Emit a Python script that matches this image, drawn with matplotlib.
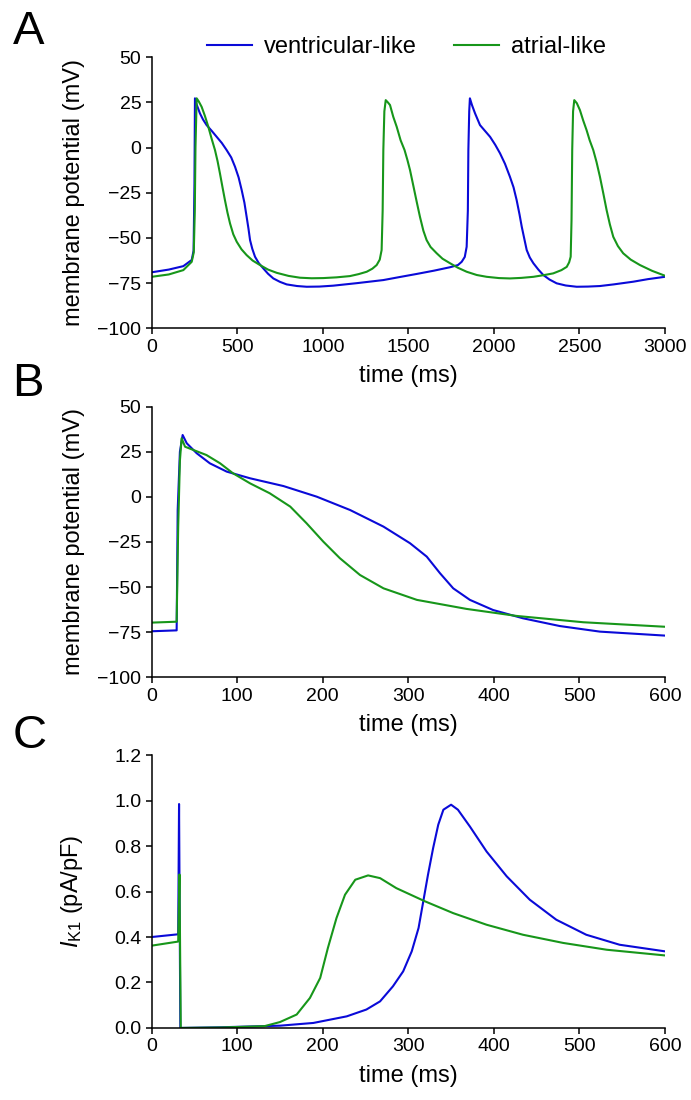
import numpy as np
import matplotlib
matplotlib.use('Agg')
import matplotlib.pyplot as plt

plt.rcParams['font.family'] = ['Liberation Sans', 'DejaVu Sans']
plt.rcParams['mathtext.fontset'] = 'custom'
plt.rcParams['mathtext.rm'] = 'Liberation Sans'
plt.rcParams['mathtext.it'] = 'Liberation Sans:italic'
plt.rcParams['lines.solid_joinstyle'] = 'round'

BLUE = '#0a0ad8'
GREEN = '#17961a'

# ---- panel A: spontaneous activity, 0-3000 ms
t_ven_a = [0, 100, 185, 234, 245, 250, 253, 262, 282, 300, 321, 350, 380, 410, 438, 465,
           487, 508, 526, 542, 555, 566, 575, 588, 604, 625, 652, 680, 711, 750, 789, 850,
           906, 980, 1061, 1200, 1354, 1451, 1550, 1650, 1744, 1790, 1812, 1830, 1841,
           1848, 1851, 1856, 1860, 1872, 1890, 1919, 1948, 1978, 2008, 2036, 2065, 2094,
           2115, 2133, 2150, 2163, 2178, 2192, 2210, 2231, 2260, 2289, 2325, 2367, 2420,
           2484, 2550, 2620, 2700, 2815, 2900, 3000]
v_ven_a = [-69.0, -67.5, -65.6, -62.2, -57.0, -20.0, 27.2, 24.0, 18.9, 15.5, 12.4, 9.3, 5.9,
           2.5, -1.4, -5.5, -10.6, -16.5, -23.5, -30.5, -38.3, -45.0, -51.2, -56.0, -60.4,
           -63.8, -66.8, -69.8, -72.4, -74.3, -75.7, -76.6, -77.0, -76.9, -76.4, -75.0,
           -73.3, -71.6, -69.9, -68.1, -66.2, -65.0, -63.2, -60.5, -54.9, -35.0, -1.4,
           20.0, 27.2, 23.5, 18.9, 12.4, 9.2, 5.9, 1.5, -3.2, -9.0, -16.2, -22.0, -29.0,
           -37.0, -43.8, -50.5, -56.7, -60.8, -64.0, -67.5, -70.5, -73.0, -75.1, -76.3,
           -77.0, -76.9, -76.6, -75.7, -74.2, -72.8, -71.5]

t_atr_a = [0, 100, 185, 234, 246, 252, 256, 263, 275, 292, 311, 331, 350, 370, 385, 399,
           414, 428, 443, 458, 477, 497, 525, 555, 590, 633, 680, 731, 800, 867, 935, 1003,
           1080, 1159, 1210, 1257, 1290, 1315, 1333, 1344, 1350, 1354, 1360,
           1368, 1380, 1393, 1412, 1432, 1455, 1478, 1495, 1510, 1529, 1549, 1568, 1588,
           1607, 1630, 1666, 1700, 1744, 1790, 1841, 1900, 1958, 2030, 2094, 2160, 2231,
           2290, 2347, 2395, 2426, 2440, 2449, 2454, 2458, 2463,
           2470, 2485, 2503, 2522, 2542, 2560, 2581, 2600, 2620, 2640, 2659, 2678, 2698,
           2725, 2756, 2800, 2854, 2925, 3000]
v_atr_a = [-71.5, -70.2, -67.8, -63.2, -58.0, -35.0, 0.0, 27.2, 25.5, 22.5, 17.5, 11.5, 5.0,
           -1.4, -7.5, -14.3, -22.0, -29.0, -36.0, -42.0, -48.0, -52.1, -56.3, -59.5,
           -62.5, -65.0, -67.5, -69.3, -71.0, -72.0, -72.3, -72.2, -71.8, -71.1, -70.0,
           -68.7, -67.0, -65.0, -62.0, -56.7, -35.0, -1.4, 20.0,
           26.2, 25.0, 23.5, 17.0, 11.5, 4.0, -1.4, -7.0, -12.5, -21.0, -30.0, -38.3,
           -46.0, -51.2, -55.0, -58.5, -61.5, -64.0, -66.5, -68.7, -70.5, -71.5, -72.2,
           -72.4, -72.1, -71.5, -70.6, -69.6, -67.8, -66.0, -63.5, -60.4, -40.0, -1.4, 20.0,
           26.2, 24.5, 20.7, 15.0, 9.6, 4.0, -1.4, -8.0, -16.2, -25.5, -34.6, -42.5, -49.4,
           -54.5, -58.5, -62.0, -65.0, -68.2, -70.9]

# ---- panel B: paced action potential, 0-600 ms
t_ven_b = [0, 29.2, 30.4, 33, 36.2, 41, 52.6, 68, 87.7, 115, 154, 193, 232, 271, 302, 321.5,
           337, 352.5, 372, 399, 434, 477, 524, 600]
v_ven_b = [-74.5, -74.0, -7.3, 25.0, 34.3, 29.7, 24.2, 18.6, 14.0, 10.3, 6.0, 0.1, -7.3,
           -16.5, -25.7, -33.1, -42.3, -50.7, -57.1, -62.7, -67.3, -71.6, -74.7, -76.9]

t_atr_b = [0, 29.2, 31, 33, 35, 39, 48.7, 64, 80, 95, 115, 138, 162, 181, 200.6, 220, 243.5,
           271, 310, 368, 426.6, 504.5, 600]
v_atr_b = [-69.7, -69.2, -16.5, 20.0, 32.5, 27.8, 26.0, 23.2, 18.6, 13.1, 7.5, 2.0, -5.4,
           -14.6, -24.8, -34.0, -43.3, -50.7, -57.1, -62.1, -66.0, -69.5, -72.0]

# ---- panel C: IK1 current
t_ven_c = [0, 31, 32, 33.5, 81, 150, 189, 228, 251, 267, 282, 294, 304, 312, 317.5, 323, 329,
           335, 341, 350, 358, 372, 391.5, 415, 442, 473, 508, 547, 600]
i_ven_c = [0.400, 0.412, 0.985, 0.0, 0.003, 0.010, 0.022, 0.051, 0.081, 0.117, 0.183, 0.249,
           0.337, 0.44, 0.557, 0.674, 0.791, 0.894, 0.96, 0.982, 0.96, 0.886, 0.776, 0.667,
           0.564, 0.476, 0.41, 0.366, 0.337]

t_atr_c = [0, 31, 32.5, 34, 81, 132, 150, 169.5, 185, 197, 206, 216, 226, 238, 253, 267, 286,
           319.5, 352.5, 391.5, 434, 481, 532, 600]
i_atr_c = [0.362, 0.380, 0.675, 0.0, 0.002, 0.008, 0.026, 0.059, 0.132, 0.22, 0.352, 0.483,
           0.586, 0.652, 0.671, 0.659, 0.615, 0.557, 0.505, 0.454, 0.41, 0.374, 0.344, 0.319]

fig = plt.figure(figsize=(6.91, 11), dpi=100)
L, W = 0.2195, 0.7428
axA = fig.add_axes([L, 0.7015, W, 0.2466])
axB = fig.add_axes([L, 0.3843, W, 0.246])
axC = fig.add_axes([L, 0.0655, W, 0.248])

lw = 1.5
hv, = axA.plot(t_ven_a, v_ven_a, color=BLUE, lw=lw)
ha, = axA.plot(t_atr_a, v_atr_a, color=GREEN, lw=lw)
axB.plot(t_ven_b, v_ven_b, color=BLUE, lw=lw)
axB.plot(t_atr_b, v_atr_b, color=GREEN, lw=lw)
axC.plot(t_ven_c, i_ven_c, color=BLUE, lw=lw)
axC.plot(t_atr_c, i_atr_c, color=GREEN, lw=lw)

axA.set_xlim(0, 3000)
axA.set_xticks(np.arange(0, 3001, 500))
for ax in (axA, axB):
    ax.set_ylim(-100, 50)
    ax.set_yticks([-100, -75, -50, -25, 0, 25, 50])
    ax.set_ylabel('membrane potential (mV)', fontsize=17)
for ax in (axB, axC):
    ax.set_xlim(0, 600)
    ax.set_xticks(np.arange(0, 601, 100))
axC.set_ylim(0, 1.2)
axC.set_yticks([0.0, 0.2, 0.4, 0.6, 0.8, 1.0, 1.2])
axC.set_yticklabels(['0.0', '0.2', '0.4', '0.6', '0.8', '1.0', '1.2'])
axC.set_ylabel(r'$I_{\mathrm{K1}}$ (pA/pF)', fontsize=17)

for ax in (axA, axB, axC):
    ax.spines['top'].set_visible(False)
    ax.spines['right'].set_visible(False)
    ax.spines['left'].set_linewidth(1.1)
    ax.spines['bottom'].set_linewidth(1.1)
    ax.tick_params(direction='out', length=4.5, width=1.1, labelsize=14, pad=3)
    ax.set_xlabel('time (ms)', fontsize=17)
    ax.yaxis.set_label_coords(-0.13, 0.5)
    ax.xaxis.set_label_coords(0.5, -0.135)

fig.legend([hv, ha], ['ventricular-like', 'atrial-like'], loc='center',
           bbox_to_anchor=(0.588, 0.957), ncol=2, frameon=False, fontsize=17,
           handlelength=1.9, handletextpad=0.5, columnspacing=1.6, borderpad=0)

for letter, ytop in (('A', 10), ('B', 362), ('C', 714)):
    fig.text(0.018, 1 - ytop / 1100, letter, fontsize=34, va='top', ha='left')

fig.savefig('out.png', dpi=100)
